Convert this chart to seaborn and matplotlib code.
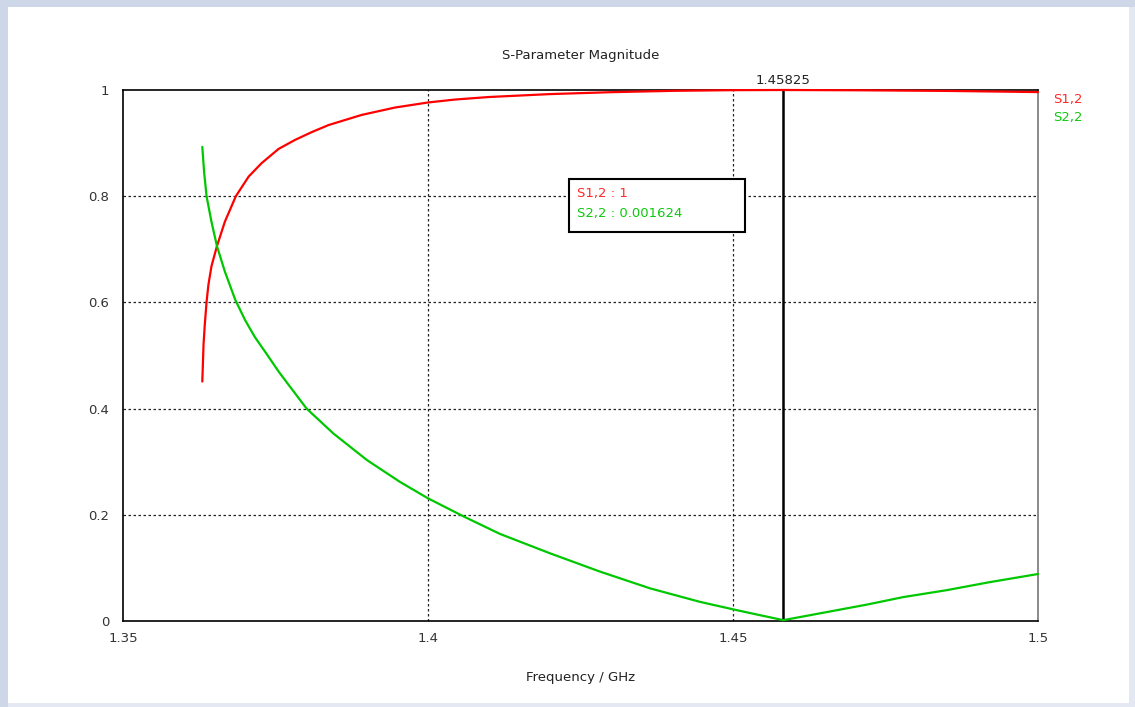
import numpy as np
import pandas as pd
import matplotlib
matplotlib.use('Agg')
import matplotlib.pyplot as plt
from matplotlib.patches import Rectangle
import matplotlib.transforms as mtransforms
import seaborn as sns

# S1,2 magnitude (frequency in GHz)
freq_s12 = [1.3630, 1.3632, 1.3634, 1.3637, 1.3640, 1.3645, 1.3654, 1.3667, 1.3685,
            1.3706, 1.3727, 1.3755, 1.3782, 1.3810, 1.3837, 1.3891, 1.3946, 1.4000,
            1.4044, 1.4100, 1.4200, 1.4300, 1.4400, 1.4500, 1.45825, 1.4700, 1.4850,
            1.5000]
s12 = [0.451, 0.520, 0.557, 0.601, 0.633, 0.668, 0.706, 0.752, 0.800,
       0.837, 0.862, 0.889, 0.906, 0.921, 0.934, 0.953, 0.967, 0.9765,
       0.982, 0.9868, 0.9923, 0.9959, 0.9984, 0.9997, 1.0, 0.9995, 0.9983,
       0.9961]

# S2,2 magnitude
freq_s22 = [1.3630, 1.3633, 1.3637, 1.3645, 1.3654, 1.3667, 1.3684, 1.3700, 1.3716,
            1.3736, 1.3755, 1.3770, 1.3801, 1.3845, 1.3900, 1.3954, 1.4000, 1.4060,
            1.4118, 1.4200, 1.4282, 1.4364, 1.4446, 1.4500, 1.4540, 1.45825, 1.4650,
            1.4720, 1.4779, 1.4850, 1.4920, 1.5000]
s22 = [0.893, 0.845, 0.800, 0.752, 0.706, 0.658, 0.605, 0.567, 0.535,
       0.502, 0.470, 0.447, 0.400, 0.353, 0.303, 0.262, 0.231, 0.196,
       0.164, 0.1275, 0.093, 0.0615, 0.036, 0.022, 0.012, 0.0016, 0.016,
       0.031, 0.045, 0.058, 0.073, 0.0885]

x_ticks = [1.35, 1.4, 1.45, 1.5]
x_tick_labels = ['1.35', '1.4', '1.45', '1.5']
y_ticks = [0, 0.2, 0.4, 0.6, 0.8, 1]
y_tick_labels = ['0', '0.2', '0.4', '0.6', '0.8', '1']

marker_x = 1.45825
marker_readout = ['S1,2 : 1', 'S2,2 : 0.001624']
series_names = ['S1,2', 'S2,2']
series_colors = ['#ff0000', '#00c800']
text_colors = ['#ff2a2a', '#10c810']

sns.set_style('white')
plt.rcParams['font.family'] = ['DejaVu Sans']

fig = plt.figure(figsize=(11.35, 7.07), dpi=100)
fig.patch.set_facecolor('#e3e8f3')
# darker top / left frame strips, then the white inner panel
fig.patches.append(Rectangle((0, 1 - 7 / 707), 1, 7 / 707, transform=fig.transFigure,
                             facecolor='#cdd7e8', edgecolor='none', zorder=-11))
fig.patches.append(Rectangle((0, 0), 8 / 1135, 1, transform=fig.transFigure,
                             facecolor='#cdd7e8', edgecolor='none', zorder=-11))
fig.patches.append(Rectangle((8 / 1135, 1 - 703 / 707), (1129 - 8) / 1135, (703 - 7) / 707,
                             transform=fig.transFigure, facecolor='white',
                             edgecolor='none', zorder=-10))

ax = fig.add_axes([123 / 1135, 1 - 621 / 707, (1038 - 123) / 1135, (621 - 90) / 707])
ax.set_facecolor('white')

sns.lineplot(x=freq_s12, y=s12, color=series_colors[0], linewidth=1.6, ax=ax,
             estimator=None, sort=False, zorder=4)
sns.lineplot(x=freq_s22, y=s22, color=series_colors[1], linewidth=1.6, ax=ax,
             estimator=None, sort=False, zorder=4)
for line in ax.lines:
    line.set_clip_on(False)

ax.set_xlim(1.35, 1.5)
ax.set_ylim(0, 1)
ax.set_xticks(x_ticks)
ax.set_xticklabels(x_tick_labels)
ax.set_yticks(y_ticks)
ax.set_yticklabels(y_tick_labels)
ax.tick_params(axis='x', direction='out', length=6, width=1, colors='#333333',
               labelsize=9.5, pad=2)
ax.tick_params(axis='y', direction='out', length=5, width=1, colors='#333333',
               labelsize=9.5, pad=5)
ax.tick_params(axis='x', color='black')
ax.tick_params(axis='y', color='black')

# dotted grid on interior ticks only
for xv in x_ticks[1:-1]:
    ax.axvline(xv, color='#222222', linestyle=(0, (2, 2)), linewidth=0.9, zorder=1)
for yv in y_ticks[1:-1]:
    ax.axhline(yv, color='#222222', linestyle=(0, (2, 2)), linewidth=0.9, zorder=1)

for side in ['top', 'left', 'bottom']:
    ax.spines[side].set_color('black')
    ax.spines[side].set_linewidth(1.2)
ax.spines['right'].set_color('#777777')
ax.spines['right'].set_linewidth(1.2)

ax.set_title('S-Parameter Magnitude', fontsize=9.5, color='#222222', pad=22)
ax.set_xlabel('Frequency / GHz', fontsize=9.5, color='#222222', labelpad=19)
ax.set_ylabel('')

# marker line
ax.axvline(marker_x, color='black', linewidth=1.8, zorder=3)
trans = mtransforms.blended_transform_factory(ax.transData, ax.transAxes)
ax.text(marker_x, 1.006, f'{marker_x:g}', transform=trans, ha='center', va='bottom',
        fontsize=9.5, color='#222222')

# readout box
box = Rectangle((0.4874, 0.7326), 0.6798 - 0.4874, 0.8324 - 0.7326,
                transform=ax.transAxes, facecolor='white', edgecolor='black',
                linewidth=1.5, zorder=5)
ax.add_patch(box)
ax.text(0.4967, 0.806, marker_readout[0], transform=ax.transAxes, color=text_colors[0],
        fontsize=9.5, va='center', ha='left', zorder=6)
ax.text(0.4967, 0.768, marker_readout[1], transform=ax.transAxes, color=text_colors[1],
        fontsize=9.5, va='center', ha='left', zorder=6)

# right-side legend labels
ax.text(1.0164, 0.983, series_names[0], transform=ax.transAxes, color=text_colors[0],
        fontsize=9.5, va='center', ha='left')
ax.text(1.0164, 0.949, series_names[1], transform=ax.transAxes, color=text_colors[1],
        fontsize=9.5, va='center', ha='left')

fig.savefig('out.png', dpi=100, facecolor=fig.get_facecolor())
